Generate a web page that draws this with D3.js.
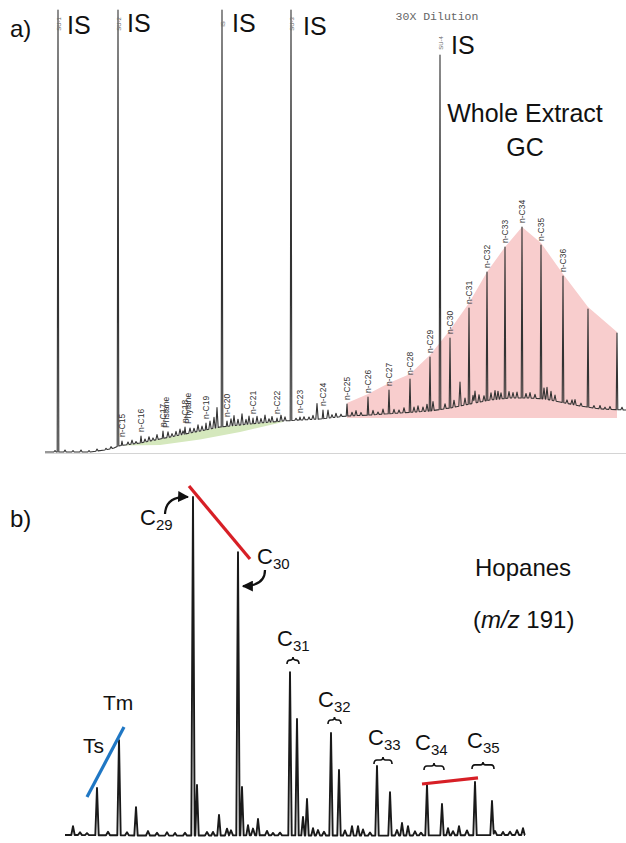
<!DOCTYPE html>
<html>
<head>
<meta charset="utf-8">
<script src="https://cdn.jsdelivr.net/npm/d3@7"></script>
<style>
  body { margin: 0; background: #fff; }
  svg { display: block; font-family: "Liberation Sans", Arial, Helvetica, sans-serif; }
</style>
</head>
<body>
<svg id="fig" width="626" height="843"></svg>
<script>
// ===== Panel a: whole extract GC (retention time in min, signal in % of full scale) =====
const gcBaseline = [
  [0, 0], [4.5, 0], [6.0, 0.4], [6.9, 0.8], [7.3, 1.2], [8.0, 1.4], [9.5, 1.8], [11.5, 2.6],
  [13.5, 3.4], [15.5, 4.2], [17.5, 5.0], [19.5, 5.4], [21.5, 5.8], [23.8, 6.2], [25.5, 6.4],
  [27.5, 6.6], [30.2, 7.2], [32.5, 7.4], [35.5, 7.8], [38.5, 8.2], [40.5, 8.8], [42.5, 9.6],
  [44.5, 10.4], [46.5, 10.8], [48.5, 10.8], [50.0, 10.6], [51.5, 10.0], [53.5, 9.2],
  [55.5, 8.6], [58.1, 8.4]
];

// internal standards / surrogates
const gcStandards = [
  { tag: "SU-1", t: 1.3, a: 90 },
  { tag: "SU-2", t: 7.3, a: 90 },
  { tag: "IS",   t: 17.7, a: 90 },
  { tag: "SU-3", t: 24.6, a: 90 },
  { tag: "SU-4", t: 39.5, a: 79.4 }
];

// n-alkanes and isoprenoids
const gcAlkanes = [
  { label: "n-C15", t: 7.7,  a: 2.2 },
  { label: "n-C16", t: 9.6,  a: 3.2 },
  { label: "n-C17", t: 11.8, a: 4.2, alt: "Pristane" },
  { label: "n-C18", t: 14.0, a: 5.0, alt: "Phytane" },
  { label: "n-C19", t: 16.1, a: 5.8 },
  { label: "n-C20", t: 18.2, a: 6.2 },
  { label: "n-C21", t: 20.8, a: 6.8 },
  { label: "n-C22", t: 23.2, a: 6.8 },
  { label: "n-C23", t: 25.5, a: 7.0 },
  { label: "n-C24", t: 27.8, a: 8.4 },
  { label: "n-C25", t: 30.2, a: 9.6 },
  { label: "n-C26", t: 32.3, a: 11.0 },
  { label: "n-C27", t: 34.4, a: 12.4 },
  { label: "n-C28", t: 36.5, a: 14.6 },
  { label: "n-C29", t: 38.5, a: 19.0 },
  { label: "n-C30", t: 40.5, a: 22.8 },
  { label: "n-C31", t: 42.4, a: 28.8 },
  { label: "n-C32", t: 44.2, a: 36.0 },
  { label: "n-C33", t: 46.0, a: 41.0 },
  { label: "n-C34", t: 47.7, a: 45.0 },
  { label: "n-C35", t: 49.6, a: 41.4 },
  { label: "n-C36", t: 51.8, a: 35.2 },
  { label: "",      t: 54.3, a: 28.6 },
  { label: "",      t: 57.2, a: 23.8 }
];

// small unresolved peaks: [retention time, height above baseline]
const gcMinor = [
  [1.0, 0.3], [2.0, 0.4], [2.8, 0.3], [3.6, 0.4], [4.4, 0.3], [5.2, 0.4], [6.1, 0.3], [6.6, 0.4],
  [8.3, 0.5], [8.7, 0.8], [9.1, 0.4], [10.0, 0.6], [10.4, 0.9], [10.8, 0.5], [11.2, 1.0], [12.3, 1.1],
  [12.7, 0.6], [13.1, 0.9], [13.5, 1.2], [13.8, 0.7], [14.5, 1.0], [14.9, 0.8], [15.3, 1.3], [15.7, 0.9],
  [16.5, 1.6], [16.9, 2.2], [17.2, 4.0], [18.6, 1.4], [18.9, 2.0], [19.3, 1.2], [19.7, 2.2], [20.1, 1.0],
  [20.4, 1.6], [21.2, 1.4], [21.6, 0.9], [22.0, 1.5], [22.4, 0.7], [22.7, 1.1], [23.6, 1.2], [24.0, 0.8],
  [25.1, 0.4], [25.9, 0.6], [26.4, 0.5], [26.8, 0.8], [27.2, 3.1], [28.3, 1.6], [28.7, 0.6], [29.1, 0.8],
  [29.6, 0.5], [30.7, 0.7], [31.1, 1.0], [31.6, 0.6], [32.8, 0.9], [33.3, 0.5], [33.8, 1.0], [34.9, 0.8],
  [35.4, 0.6], [35.9, 1.0], [36.9, 1.0], [37.3, 1.2], [37.8, 0.9], [38.2, 1.4], [38.8, 1.8], [40.0, 1.0],
  [40.9, 1.4], [41.5, 4.8], [42.0, 1.4], [42.8, 1.6], [43.0, 2.4], [43.4, 1.5], [43.9, 1.1], [44.6, 1.4],
  [45.0, 1.8], [45.3, 1.6], [45.6, 1.2], [46.4, 1.3], [46.8, 1.1], [47.2, 1.2], [48.1, 0.9], [48.5, 1.1],
  [49.0, 0.8], [49.9, 2.2], [50.2, 2.4], [50.6, 1.8], [51.0, 1.2], [52.2, 0.7], [52.7, 0.9], [53.0, 1.1],
  [53.6, 0.6], [54.9, 0.5], [55.5, 0.7], [56.0, 0.4], [56.5, 0.6], [57.7, 0.5]
];

// unresolved complex mixture hump (pink) and light-end wedge (green)
const gcHumpTop = [
  [30.2, 9.8], [32.3, 11.6], [34.4, 13.8], [36.5, 15.6], [38.5, 19.4], [40.5, 24.4], [42.4, 29.8],
  [44.2, 36.0], [46.0, 41.0], [47.7, 45.0], [49.6, 41.8], [51.8, 35.6], [54.3, 29.0], [57.2, 24.0]
];
const gcHumpFloor = 6.8;
const gcWedgeLower = [[7.8, 1.3], [11.5, 1.4], [15.5, 2.5], [19.5, 4.0], [23.8, 6.0]];

// ===== Panel b: hopanes, m/z 191 (relative abundance, C29 = 100) =====
const hopBaseline = [[0, 0.6], [10, 0.4], [20, 0.5], [30, 0.4], [46, 0.6]];
const hopPeaks = [
  { id: "p1",  t: 0.8,  a: 3.2 },
  { id: "Ts",  t: 3.2,  a: 14.4 },
  { id: "Tm",  t: 5.4,  a: 28.5 },
  { id: "p4",  t: 7.1,  a: 8.8 },
  { id: "p5",  t: 11.0, a: 1.2 },
  { id: "C29", t: 12.8, a: 100 },
  { id: "p7",  t: 13.2, a: 15.3 },
  { id: "p8",  t: 14.8, a: 1.5 },
  { id: "p9",  t: 15.4, a: 6.5 },
  { id: "C30", t: 17.3, a: 83.8 },
  { id: "p11", t: 17.7, a: 14.7 },
  { id: "p12", t: 18.3, a: 3.5 },
  { id: "p13", t: 19.3, a: 5.3 },
  { id: "p14", t: 20.8, a: 1.2 },
  { id: "C31S", t: 22.5, a: 48.5 },
  { id: "C31R", t: 23.2, a: 34.7 },
  { id: "p17", t: 23.8, a: 5.9 },
  { id: "p18", t: 24.2, a: 11.2 },
  { id: "p19", t: 24.8, a: 2.6 },
  { id: "C32S", t: 26.6, a: 30.6 },
  { id: "C32R", t: 27.4, a: 19.7 },
  { id: "p22", t: 28.7, a: 3.2 },
  { id: "p23", t: 29.3, a: 3.2 },
  { id: "C33S", t: 31.2, a: 20.9 },
  { id: "C33R", t: 32.5, a: 13.2 },
  { id: "p26", t: 33.7, a: 4.1 },
  { id: "p27", t: 34.3, a: 3.2 },
  { id: "C34S", t: 36.2, a: 15.3 },
  { id: "C34R", t: 37.7, a: 9.7 },
  { id: "p30", t: 38.3, a: 2.6 },
  { id: "p31", t: 39.4, a: 3.2 },
  { id: "C35S", t: 41.0, a: 16.2 },
  { id: "C35R", t: 42.7, a: 10.6 },
  { id: "p34", t: 43.8, a: 1.5 },
  { id: "p35", t: 45.8, a: 2.6 }
];
const hopMinor = [
  [1.5, 0.8], [2.2, 0.6], [4.3, 1.0], [6.2, 0.9], [8.3, 1.3], [9.2, 0.8], [10.2, 1.0], [12.0, 0.8],
  [14.2, 1.0], [16.2, 2.0], [16.6, 1.5], [18.8, 2.0], [20.2, 1.3], [21.5, 0.8], [25.3, 1.6], [25.9, 1.1],
  [28.0, 1.5], [29.8, 1.8], [30.5, 0.9], [33.2, 1.6], [35.0, 1.2], [35.6, 0.8], [38.8, 1.2], [40.2, 1.4],
  [43.0, 1.2], [44.5, 1.0], [45.2, 1.4]
];
const hopGroups = [
  { carbon: "29", peaks: ["C29"] },
  { carbon: "30", peaks: ["C30"] },
  { carbon: "31", peaks: ["C31S", "C31R"] },
  { carbon: "32", peaks: ["C32S", "C32R"] },
  { carbon: "33", peaks: ["C33S", "C33R"] },
  { carbon: "34", peaks: ["C34S", "C34R"] },
  { carbon: "35", peaks: ["C35S", "C35R"] }
];

// ===== helpers =====
// Builds a chromatogram trace: interpolated baseline plus triangular peaks.
function buildTrace(baseline, apexPeaks, minorPeaks, wMain, wMinor) {
  const base = d3.scaleLinear().domain(baseline.map(d => d[0])).range(baseline.map(d => d[1]));
  const comps = apexPeaks.map(p => ({ t: p.t, h: p.a - base(p.t), w: wMain }))
    .concat(minorPeaks.map(([t, h]) => ({ t, h, w: wMinor })));
  const ts = new Set(baseline.map(d => d[0]));
  comps.forEach(c => { ts.add(+(c.t - c.w).toFixed(4)); ts.add(c.t); ts.add(+(c.t + c.w).toFixed(4)); });
  const t0 = baseline[0][0], t1 = baseline[baseline.length - 1][0];
  return Array.from(ts).filter(t => t >= t0 && t <= t1).sort((a, b) => a - b)
    .map(t => [t, base(t) + d3.max(comps, c => Math.max(0, c.h * (1 - Math.abs(t - c.t) / c.w)))]);
}

const svg = d3.select("#fig");
const defs = svg.append("defs");
defs.append("marker")
  .attr("id", "arrowhead").attr("viewBox", "0 0 10 10").attr("refX", 9).attr("refY", 5)
  .attr("markerWidth", 5).attr("markerHeight", 5).attr("markerUnits", "strokeWidth")
  .attr("orient", "auto")
  .append("path").attr("d", "M0,0 L10,5 L0,10 Z").attr("fill", "#111");

// ===== Panel a =====
const xa = d3.scaleLinear().domain([0, 58.1]).range([45, 626]);
const ya = d3.scaleLinear().domain([0, 88.4]).range([452, 10]).clamp(true);
const gA = svg.append("g");

// faint axis line
gA.append("line").attr("x1", xa(0)).attr("x2", xa(58.1)).attr("y1", ya(0) + 1.5).attr("y2", ya(0) + 1.5)
  .attr("stroke", "#d4d4d4").attr("stroke-width", 1.2);

// UCM hump
const humpPoly = gcHumpTop.concat([[gcHumpTop[gcHumpTop.length - 1][0], gcHumpFloor], [gcHumpTop[0][0], gcHumpFloor]]);
gA.append("path")
  .attr("d", d3.line().x(d => xa(d[0])).y(d => ya(d[1]))(humpPoly) + "Z")
  .attr("fill", "#f8cdcd");

// green wedge under the light end
const baseA = d3.scaleLinear().domain(gcBaseline.map(d => d[0])).range(gcBaseline.map(d => d[1]));
const wStart = gcWedgeLower[0][0], wEnd = gcWedgeLower[gcWedgeLower.length - 1][0];
const wedgeTop = [[wStart, baseA(wStart)]]
  .concat(gcBaseline.filter(d => d[0] > wStart && d[0] < wEnd))
  .concat([[wEnd, baseA(wEnd)]]);
const wedgePoly = wedgeTop.concat(gcWedgeLower.slice().reverse());
gA.append("path")
  .attr("d", d3.line().x(d => xa(d[0])).y(d => ya(d[1])).curve(d3.curveLinearClosed)(wedgePoly))
  .attr("fill", "#d5e8bd");

// trace
const traceA = buildTrace(gcBaseline, gcStandards.concat(gcAlkanes), gcMinor, 0.08, 0.12);
gA.append("path")
  .attr("d", d3.line().x(d => xa(d[0])).y(d => ya(d[1]))(traceA))
  .attr("fill", "none").attr("stroke", "#333").attr("stroke-width", 1.1).attr("stroke-linejoin", "round");

// peak labels (rotated)
gcAlkanes.filter(d => d.label).forEach(d => {
  const px = xa(d.t), py = ya(d.a) - 4;
  gA.append("text").attr("transform", `translate(${px + 3},${py}) rotate(-90)`)
    .attr("font-size", 8.5).attr("fill", "#333").text(d.label);
  if (d.alt) {
    gA.append("text").attr("transform", `translate(${px + 6},${py + 1}) rotate(-90)`)
      .attr("font-size", 8.5).attr("fill", "#333").text(d.alt);
  }
});

// tiny standard tags at line tops
gcStandards.forEach(d => {
  const top = ya(d.a);
  gA.append("text")
    .attr("transform", `translate(${xa(d.t) + 2.5},${top < 20 ? 24 : top - 12}) rotate(-90)`)
    .attr("text-anchor", "middle").attr("font-size", 6).attr("fill", "#666").text(d.tag);
});
// IS callouts
const isOffsets = [[9, 34], [9, 32], [10, 32], [12, 35], [11, 54]];
gcStandards.forEach((d, i) => {
  gA.append("text").attr("x", xa(d.t) + isOffsets[i][0]).attr("y", isOffsets[i][1])
    .attr("font-size", 25).attr("fill", "#111").text("IS");
});

gA.append("text").attr("x", 10).attr("y", 37).attr("font-size", 24).attr("fill", "#111").text("a)");
gA.append("text").attr("x", 437).attr("y", 20).attr("text-anchor", "middle")
  .attr("font-family", "'Liberation Mono', 'Courier New', monospace").attr("font-size", 11.5)
  .attr("fill", "#666").text("30X Dilution");
gA.append("text").attr("x", 525).attr("y", 122).attr("text-anchor", "middle")
  .attr("font-size", 25).attr("fill", "#111").text("Whole Extract");
gA.append("text").attr("x", 525).attr("y", 156).attr("text-anchor", "middle")
  .attr("font-size", 25).attr("fill", "#111").text("GC");

// ===== Panel b =====
const xb = d3.scaleLinear().domain([0, 46]).range([65, 525]);
const yb = d3.scaleLinear().domain([0, 100]).range([837, 497]);
const gB = svg.append("g");

const traceB = buildTrace(hopBaseline, hopPeaks, hopMinor, 0.17, 0.2);
gB.append("path")
  .attr("d", d3.line().x(d => xb(d[0])).y(d => yb(d[1]))(traceB))
  .attr("fill", "none").attr("stroke", "#1a1a1a").attr("stroke-width", 1.9).attr("stroke-linejoin", "round");

const pk = id => hopPeaks.find(p => p.id === id);
const P = id => [xb(pk(id).t), yb(pk(id).a)];

// subscripted carbon-number labels
function carbonLabel(x, y, sub) {
  const t = gB.append("text").attr("x", x).attr("y", y).attr("font-size", 22).attr("fill", "#111");
  t.append("tspan").text("C");
  t.append("tspan").attr("dy", 5).attr("font-size", 15).text(sub);
}
function brace(x1, x2, y) {
  const xm = (x1 + x2) / 2, h = 4;
  gB.append("path")
    .attr("d", `M${x1},${y + h} Q${x1},${y} ${x1 + 3},${y} L${xm - 2.5},${y} Q${xm},${y} ${xm},${y - 3} Q${xm},${y} ${xm + 2.5},${y} L${x2 - 3},${y} Q${x2},${y} ${x2},${y + h}`)
    .attr("fill", "none").attr("stroke", "#111").attr("stroke-width", 1.6);
}

// label offsets from the first peak of each group: [dx, dy] for the label, dy for the brace
const groupLayout = {
  "29": { lab: [-53, 28] },
  "30": { lab: [19, 12] },
  "31": { lab: [-13, -26], br: -12 },
  "32": { lab: [-13, -26], br: -13 },
  "33": { lab: [-9, -21], br: -6 },
  "34": { lab: [-12, -35], br: -19 },
  "35": { lab: [-8, -34], br: -17 }
};
hopGroups.forEach(g => {
  const [x0, y0] = P(g.peaks[0]);
  const L = groupLayout[g.carbon];
  carbonLabel(x0 + L.lab[0], y0 + L.lab[1], g.carbon);
  if (g.peaks.length > 1) {
    const [x1] = P(g.peaks[1]);
    brace(x0 - 3, x1 + 2, y0 + L.br);
  }
});

// curved arrows to C29 and C30
const [c29x, c29y] = P("C29");
const [c30x, c30y] = P("C30");
gB.append("path")
  .attr("d", `M${c29x - 28},${c29y + 17} Q${c29x - 27},${c29y - 1} ${c29x - 5},${c29y}`)
  .attr("fill", "none").attr("stroke", "#111").attr("stroke-width", 2.2).attr("marker-end", "url(#arrowhead)");
gB.append("path")
  .attr("d", `M${c30x + 27},${c30y + 18} Q${c30x + 27},${c30y + 34} ${c30x + 5},${c30y + 34}`)
  .attr("fill", "none").attr("stroke", "#111").attr("stroke-width", 2.2).attr("marker-end", "url(#arrowhead)");

// trend lines
gB.append("line").attr("x1", c29x - 4).attr("y1", c29y - 11).attr("x2", c30x + 12).attr("y2", c30y + 7)
  .attr("stroke", "#d71f26").attr("stroke-width", 3.2);
const [c34x, c34y] = P("C34S");
const [c35x, c35y] = P("C35S");
gB.append("line").attr("x1", c34x - 5).attr("y1", c34y - 1).attr("x2", c35x + 3).attr("y2", c35y - 4)
  .attr("stroke", "#d71f26").attr("stroke-width", 3.2);
const [tsx, tsy] = P("Ts");
const [tmx, tmy] = P("Tm");
gB.append("line").attr("x1", tsx - 10).attr("y1", tsy + 9).attr("x2", tmx + 5).attr("y2", tmy - 13)
  .attr("stroke", "#1f77c4").attr("stroke-width", 3.2);

gB.append("text").attr("x", tsx - 14).attr("y", tsy - 35).attr("font-size", 21).attr("fill", "#111").text("Ts");
gB.append("text").attr("x", tmx - 16).attr("y", tmy - 30).attr("font-size", 21).attr("fill", "#111").text("Tm");

gB.append("text").attr("x", 10).attr("y", 527).attr("font-size", 24).attr("fill", "#111").text("b)");
gB.append("text").attr("x", 475).attr("y", 576).attr("font-size", 24).attr("fill", "#111").text("Hopanes");
const mz = gB.append("text").attr("x", 473).attr("y", 628).attr("font-size", 24).attr("fill", "#111");
mz.append("tspan").text("(");
mz.append("tspan").attr("font-style", "italic").text("m/z");
mz.append("tspan").text(" 191)");
</script>
</body>
</html>
